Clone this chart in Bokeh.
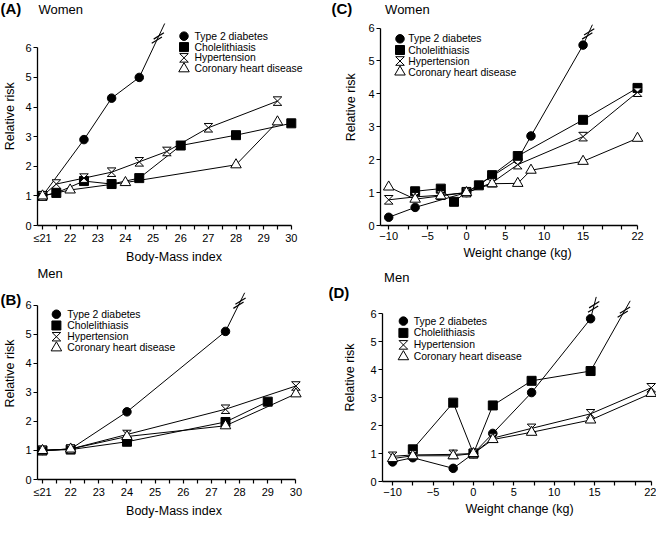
import math
from bokeh.plotting import figure
from bokeh.models import Range1d, FixedTicker, Label
from bokeh.core.properties import value
from bokeh.layouts import column, row
from bokeh.embed import file_html
from bokeh.resources import INLINE

FONT = "Liberation Sans"

# ---------------- data ----------------
series_names = ["Type 2 diabetes", "Cholelithiasis", "Hypertension", "Coronary heart disease"]

# (A) Women, Body-Mass index
a_dm_x = [21, 22.5, 23.5, 24.5]
a_dm_y = [1.0, 2.9, 4.3, 5.0]
a_dm_off = [25.42, 6.82]          # line continues off scale
a_ch_x = [21, 21.5, 22.5, 23.5, 24.5, 26, 28, 30]
a_ch_y = [1.0, 1.1, 1.5, 1.4, 1.6, 2.7, 3.05, 3.45]
a_ht_x = [21, 21.5, 22.5, 23.5, 24.5, 25.5, 27, 29.5]
a_ht_y = [1.0, 1.4, 1.6, 1.8, 2.15, 2.5, 3.3, 4.2]
a_cd_x = [21, 22, 24, 28, 29.5]
a_cd_y = [1.0, 1.2, 1.45, 2.05, 3.5]

# (B) Men, Body-Mass index
b_dm_x = [21, 22, 24, 27.5]
b_dm_y = [1.0, 1.05, 2.33, 5.1]
b_dm_off = [28.18, 6.43]
b_ch_x = [21, 22, 24, 27.5, 29]
b_ch_y = [1.0, 1.03, 1.3, 1.98, 2.68]
b_ht_x = [21, 22, 24, 27.5, 30]
b_ht_y = [1.0, 1.05, 1.55, 2.42, 3.22]
b_cd_x = [21, 22, 24, 27.5, 30]
b_cd_y = [1.0, 1.05, 1.48, 1.85, 2.95]

# (C) Women, weight change (kg)
c_dm_x = [-10, -6.6, 0, 3.3, 6.6, 8.3, 15]
c_dm_y = [0.25, 0.55, 1.0, 1.5, 2.0, 2.72, 5.48]
c_dm_off = [16.2, 6.1]
c_ch_x = [-6.6, -3.3, -1.6, 0, 1.6, 3.3, 6.6, 15, 22]
c_ch_y = [1.04, 1.12, 0.72, 1.02, 1.22, 1.53, 2.11, 3.21, 4.18]
c_ht_x = [-10, -6.6, -3.3, 0, 3.3, 6.6, 15, 22]
c_ht_y = [0.78, 0.87, 0.92, 1.0, 1.3, 1.85, 2.7, 4.05]
c_cd_x = [-10, -6.6, -3.3, 0, 3.3, 6.6, 8.3, 15, 22]
c_cd_y = [1.17, 0.8, 0.9, 1.0, 1.27, 1.28, 1.68, 1.95, 2.65]

# (D) Men, weight change (kg)
d_dm_x = [-10, -7.5, -2.5, 0, 2.4, 7.2, 14.5]
d_dm_y = [0.7, 0.85, 0.47, 1.0, 1.72, 3.18, 5.82]
d_dm_off = [15.2, 6.6]
d_ch_x = [-7.5, -2.5, 0, 2.4, 7.2, 14.5]
d_ch_y = [1.15, 2.82, 1.0, 2.72, 3.6, 3.95]
d_ch_off = [19.4, 6.46]
d_ht_x = [-10, -7.5, -2.5, 0, 2.4, 7.2, 14.5, 22]
d_ht_y = [0.9, 0.95, 0.97, 1.0, 1.55, 1.9, 2.42, 3.35]
d_cd_x = [-10, -7.5, -2.5, 0, 2.4, 7.2, 14.5, 22]
d_cd_y = [0.82, 0.92, 0.92, 1.0, 1.5, 1.76, 2.2, 3.15]

# axis ticks
bmi_ticks = [21, 22, 23, 24, 25, 26, 27, 28, 29, 30]
bmi_minor = [21.5, 22.5, 23.5, 24.5, 25.5, 26.5, 27.5, 28.5, 29.5]
bmi_labels = {21: "\u226421"}
wc_ticks = [-10, -5, 0, 5, 10, 15, 22]
wc_minor = [-7.5, -2.5, 2.5, 7.5, 12.5, 17.5, 20]
wc_labels = {-10: "\u221210", -5: "\u22125"}
rr_ticks = [0, 1, 2, 3, 4, 5, 6]


def make_panel(geom, ws, xanch, yanch, xmax, xticks, xminor, xlabels, xtitle,
               dm, ch, ht, cd, offs, tag, sub, tag_pos, sub_pos, ylab_pos, leg):
    # geometry given in panel-local pixels (strip + plot)
    w, h, L, R, B = geom
    T = 0
    pw = w - ws
    Lp, Rp = L - ws, R - ws
    (xa, pa), (xb, pb) = xanch
    pa -= ws
    pb -= ws
    sx = (pb - pa) / (xb - xa)
    x0 = xa + (Lp - pa) / sx
    x1 = xa + (Rp - pa) / sx
    (ya, qa), (yb, qb) = yanch
    sy = (qa - qb) / (yb - ya)
    y0 = ya - (B - qa) / sy
    y1 = ya + (qa - T) / sy

    # narrow strip on the left: panel letter and y-axis title
    s = figure(width=ws, height=h, x_range=Range1d(0, ws), y_range=Range1d(0, h),
               output_backend="svg", toolbar_location=None, x_axis_type=None, y_axis_type=None,
               min_border_left=0, min_border_right=0, min_border_top=0, min_border_bottom=0)
    s.outline_line_color = None
    s.text(x=[tag_pos[0]], y=[h - tag_pos[1]], text=[tag], text_font=value(FONT),
           text_font_size=value("15px"), text_font_style="bold", text_baseline="middle",
           text_align="left", text_color="black")
    s.text(x=[ylab_pos[0]], y=[h - ylab_pos[1]], text=["Relative risk"], text_font=value(FONT),
           text_font_size=value("12.5px"), text_baseline="middle", text_align="center",
           angle=math.pi / 2, text_color="black")

    p = figure(width=pw, height=h, x_range=Range1d(x0, x1), y_range=Range1d(y0, y1),
               output_backend="svg", toolbar_location=None,
               min_border_left=Lp, min_border_right=pw - Rp,
               min_border_top=T, min_border_bottom=h - B)
    p.xgrid.visible = False
    p.ygrid.visible = False
    p.outline_line_color = None

    def to_data(fx, fy):
        return x0 + (fx - ws - Lp) / sx, y1 - (fy - T) / sy

    xa_ = p.xaxis[0]
    ya_ = p.yaxis[0]
    xa_.ticker = FixedTicker(ticks=xticks, minor_ticks=xminor)
    xa_.major_label_overrides = xlabels
    xa_.bounds = (x0, xmax)
    xa_.axis_label = xtitle
    ya_.ticker = FixedTicker(ticks=rr_ticks)
    ya_.bounds = (0, 6)
    for ax in (xa_, ya_):
        ax.axis_line_width = 1.3
        ax.axis_line_color = "black"
        ax.major_tick_line_color = "black"
        ax.major_tick_line_width = 1.2
        ax.major_tick_in = 0
        ax.major_tick_out = 4
        ax.minor_tick_in = 0
        ax.minor_tick_out = 4
        ax.minor_tick_line_color = "black"
        ax.minor_tick_line_width = 1.2
        ax.major_label_standoff = 2
        ax.major_label_text_font = FONT
        ax.major_label_text_font_size = "11px"
        ax.major_label_text_color = "black"
        ax.axis_label_standoff = 3
        ax.axis_label_text_font = FONT
        ax.axis_label_text_font_size = "12.5px"
        ax.axis_label_text_font_style = "normal"
        ax.axis_label_text_color = "black"

    # connecting lines
    for (xs, ys) in (dm, ch, ht, cd):
        p.line(xs, ys, line_color="black", line_width=1)
    for (xs, ys, off, t) in offs:
        xl, yl = xs[-1], ys[-1]
        p.line([xl, off[0]], [yl, off[1]], line_color="black", line_width=1)
        bx = xl + t * (off[0] - xl)
        by = yl + t * (off[1] - yl)
        dxp = (off[0] - xl) * sx
        dyp = (off[1] - yl) * sy
        n = math.hypot(dxp, dyp)
        ux, uy = dxp / n, dyp / n
        d = 2.3
        p.scatter([bx - d * ux / sx, bx + d * ux / sx], [by - d * uy / sy, by + d * uy / sy],
                  marker="dash", size=12, angle=0.55, line_color="black", line_width=1.2)

    def hourglass(xs, ys, half=4.3):
        hx, hy = half / sx, half / sy
        XS = [[x - hx, x + hx, x - hx, x + hx] for x in xs]
        YS = [[y + hy, y + hy, y - hy, y - hy] for y in ys]
        p.patches(XS, YS, fill_color="white", line_color="black", line_width=1, line_join="miter")

    def markers(kind, xs, ys):
        if kind == 0:
            p.scatter(xs, ys, marker="circle", size=8.5, fill_color="black", line_color="black")
        elif kind == 1:
            p.scatter(xs, ys, marker="square", size=9, fill_color="black", line_color="black")
        elif kind == 2:
            hourglass(xs, ys)
        else:
            p.scatter(xs, ys, marker="triangle", size=10.5, fill_color="white", line_color="black",
                      line_width=1)

    for k, (xs, ys) in enumerate((dm, ch, ht, cd)):
        markers(k, xs, ys)

    # legend
    mx, tx, rows = leg
    for k, (name, ry) in enumerate(zip(series_names, rows)):
        lx, ly = to_data(mx, ry)
        markers(k, [lx], [ly])
        lx2, ly2 = to_data(tx, ry)
        p.add_layout(Label(x=lx2, y=ly2, text=name, text_font=FONT, text_font_size="10.4px",
                           text_baseline="middle", text_align="left", text_color="black"))

    # sub-title (Women / Men)
    sx_, sy_ = to_data(*sub_pos)
    p.add_layout(Label(x=sx_, y=sy_, text=sub, text_font=FONT, text_font_size="13px",
                       text_baseline="middle", text_align="left", text_color="black"))
    return row(s, p)


pA = make_panel((328, 266, 37, 310, 226), 22, ((21, 42), (30, 290.8)), ((0, 226), (6, 47.5)), 30,
                bmi_ticks, bmi_minor, bmi_labels, "Body-Mass index",
                (a_dm_x, a_dm_y), (a_ch_x, a_ch_y), (a_ht_x, a_ht_y), (a_cd_x, a_cd_y),
                [(a_dm_x, a_dm_y, a_dm_off, 0.73)],
                "(A)", "Women", (0, 9), (38, 9), (9, 136.8),
                (183.5, 194, [35.8, 46.8, 57.6, 68.6]))

pC = make_panel((328, 266, 52, 326, 225), 31, ((-10, 60.2), (22, 309)), ((0, 225), (6, 27.5)), 22,
                wc_ticks, wc_minor, wc_labels, "Weight change (kg)",
                (c_dm_x, c_dm_y), (c_ch_x, c_ch_y), (c_ht_x, c_ht_y), (c_cd_x, c_cd_y),
                [(c_dm_x, c_dm_y, c_dm_off, 0.55)],
                "(C)", "Women", (3, 9), (56.6, 9), (22.4, 126.3),
                (71.5, 79.7, [38.3, 49.5, 60.5, 71.5]))

pB = make_panel((328, 254, 37, 310, 216), 22, ((21, 42), (30, 295.4)), ((0, 216), (6, 39.3)), 30,
                bmi_ticks, bmi_minor, bmi_labels, "Body-Mass index",
                (b_dm_x, b_dm_y), (b_ch_x, b_ch_y), (b_ht_x, b_ht_y), (b_cd_x, b_cd_y),
                [(b_dm_x, b_dm_y, b_dm_off, 0.73)],
                "(B)", "Men", (0, 39.3), (37, 7.5), (9, 127.7),
                (55.9, 66.7, [48.4, 59.8, 71.2, 82.5]))

pD = make_panel((328, 254, 54, 328, 215), 31, ((-10, 64.1), (22, 322.7)), ((0, 215), (6, 47.2)), 22,
                wc_ticks, wc_minor, wc_labels, "Weight change (kg)",
                (d_dm_x, d_dm_y), (d_ch_x, d_ch_y), (d_ht_x, d_ht_y), (d_cd_x, d_cd_y),
                [(d_dm_x, d_dm_y, d_dm_off, 0.54), (d_ch_x, d_ch_y, d_ch_off, 0.84)],
                "(D)", "Men", (0, 30.5), (55.6, 11), (21.5, 131.1),
                (74.9, 85.2, [54.6, 66.4, 78.4, 90.2]))

layout = column(row(pA, pC), row(pB, pD))
open("out.html", "w").write(file_html(layout, INLINE))
